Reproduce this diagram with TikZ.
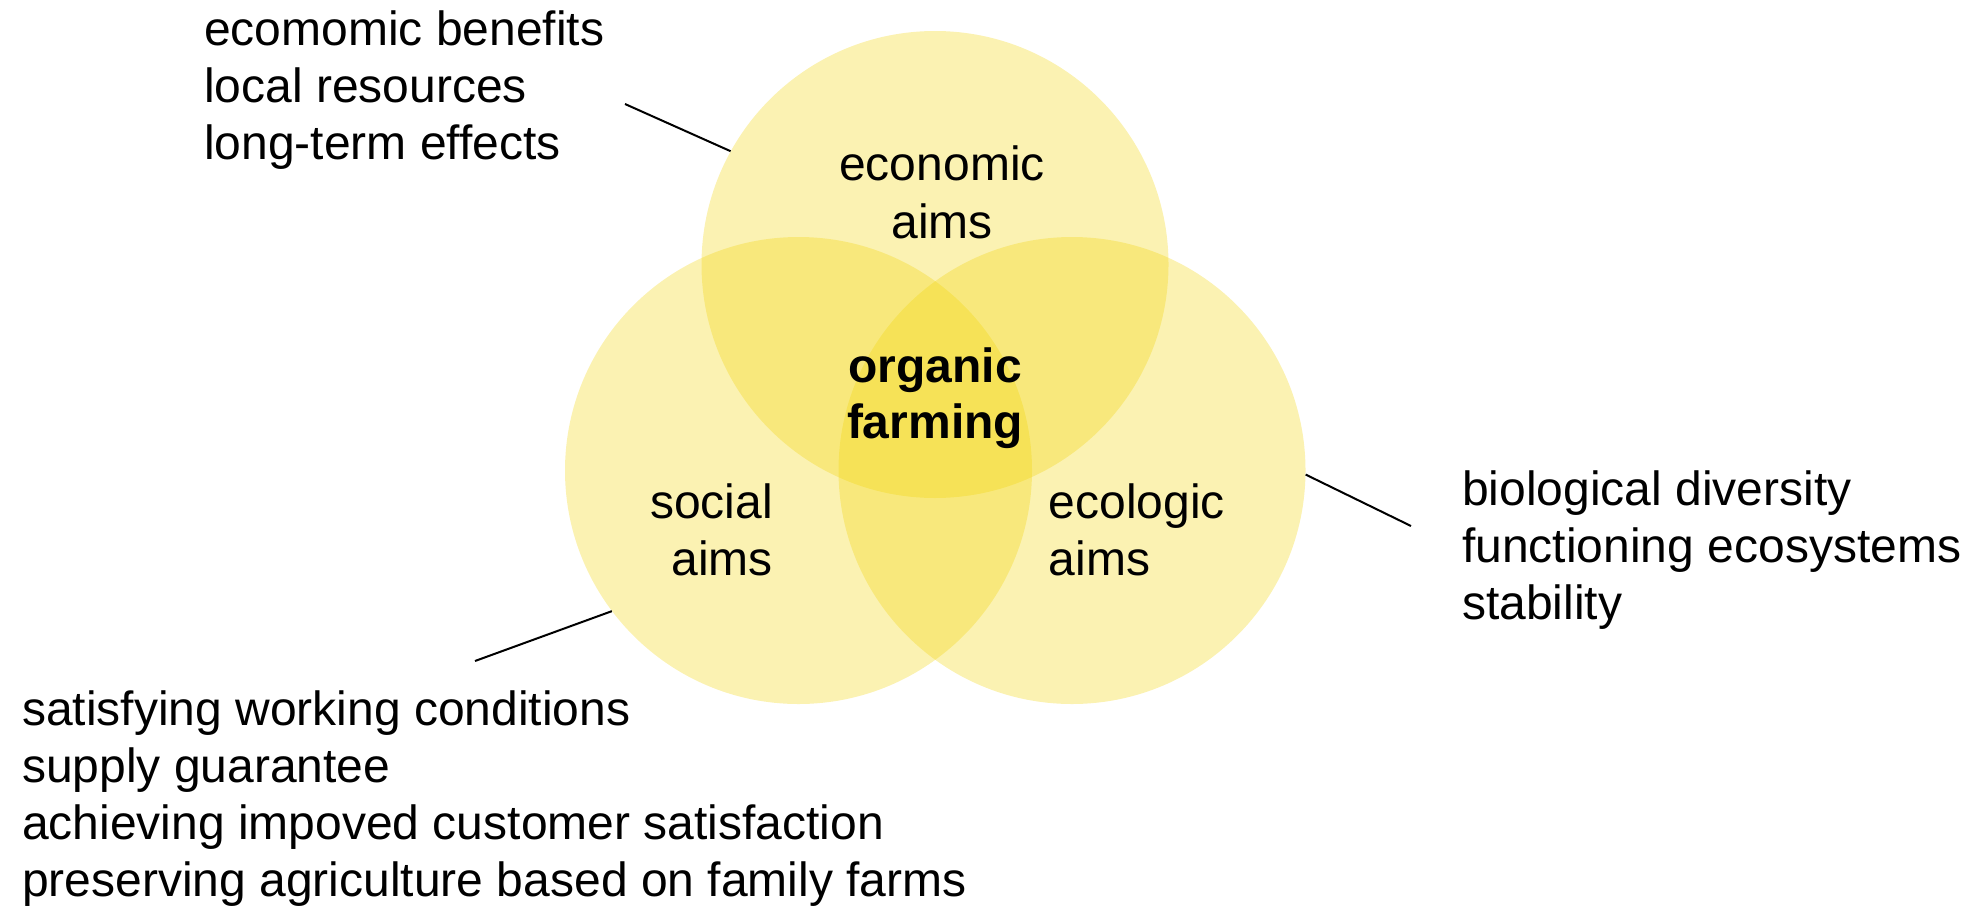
\documentclass[tikz,border=0pt]{standalone}
\usepackage{fontspec}
\setmainfont{Liberation Sans}
\definecolor{vennyellow}{RGB}{241,211,0}
\begin{document}
\begin{tikzpicture}[x=1pt,y=-1pt,
  venn/.style={circle, minimum size=467pt, inner sep=0pt, fill=vennyellow, fill opacity=0.3, draw=none},
  lbl/.style={inner sep=0pt, font=\fontsize{48}{57}\selectfont},
  lead/.style={line width=2pt, black}]
\useasboundingbox (0,0) rectangle (1981,908);
% circles
\node[venn] (eco) at (935,264.5) {};
\node[venn] (soc) at (798.5,470.5) {};
\node[venn] (ecl) at (1072,470.5) {};
% circle labels
\node[lbl, anchor=base] (ecoA) at (942,180) {economic};
\node[lbl, anchor=base] (ecoB) at (942,238) {aims};
\node[lbl, anchor=base, font=\fontsize{48}{57}\selectfont\bfseries] (orgA) at (935,382) {organic};
\node[lbl, anchor=base, font=\fontsize{48}{57}\selectfont\bfseries] (orgB) at (935,438) {farming};
\node[lbl, anchor=base east] (socA) at (773,518) {social};
\node[lbl, anchor=base east] (socB) at (773,575) {aims};
\node[lbl, anchor=base west] (eclA) at (1048.5,518) {ecologic};
\node[lbl, anchor=base west] (eclB) at (1048.5,575) {aims};
% outer text blocks
\node[lbl, anchor=base west] (t1) at (204,45) {ecomomic benefits};
\node[lbl, anchor=base west] (t2) at (204,102) {local resources};
\node[lbl, anchor=base west] (t3) at (204,159) {long-term effects};
\node[lbl, anchor=base west] (r1) at (1462,505) {biological diversity};
\node[lbl, anchor=base west] (r2) at (1462,562) {functioning ecosystems};
\node[lbl, anchor=base west] (r3) at (1462,619) {stability};
\node[lbl, anchor=base west] (b1) at (22,725) {satisfying working conditions};
\node[lbl, anchor=base west] (b2) at (22,782) {supply guarantee};
\node[lbl, anchor=base west] (b3) at (22,839) {achieving impoved customer satisfaction};
\node[lbl, anchor=base west] (b4) at (22,896) {preserving agriculture based on family farms};
% leader lines
\coordinate (ecoEnd) at (625,104);
\coordinate (eclEnd) at (1411,526);
\coordinate (socEnd) at (475,661);
\draw[lead] (eco.151.7) -- (ecoEnd);
\draw[lead] (ecl.-1.1) -- (eclEnd);
\draw[lead] (soc.217.4) -- (socEnd);
\end{tikzpicture}
\end{document}
